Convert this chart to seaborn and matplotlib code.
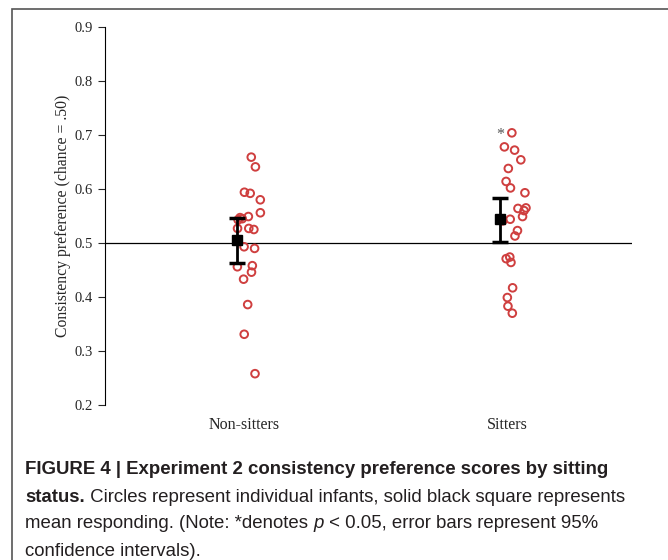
import numpy as np
import pandas as pd
import matplotlib.pyplot as plt
import matplotlib.transforms as mtransforms
import seaborn as sns
from matplotlib.patches import Rectangle

# values
groups = ["Non-sitters", "Sitters"]
non_sitters = [0.659, 0.641, 0.594, 0.592, 0.580, 0.556, 0.547, 0.545, 0.543, 0.549, 0.527,
               0.527, 0.525, 0.493, 0.490, 0.458, 0.456, 0.446, 0.433, 0.386, 0.331, 0.258]
sitters = [0.704, 0.678, 0.672, 0.654, 0.638, 0.614, 0.602, 0.593, 0.565, 0.564, 0.560, 0.549,
           0.544, 0.541, 0.523, 0.513, 0.474, 0.471, 0.464, 0.417, 0.399, 0.383, 0.370]
group_means = [0.506, 0.544]
ci_low = [0.463, 0.501]
ci_high = [0.546, 0.584]
sig_marks = ["", "*"]
y_ticks = [0.2, 0.3, 0.4, 0.5, 0.6, 0.7, 0.8, 0.9]

df = pd.DataFrame({
    "group": ["Non-sitters"] * len(non_sitters) + ["Sitters"] * len(sitters),
    "score": non_sitters + sitters,
})

sns.set_style("white")
plt.rcParams["font.family"] = ["Liberation Serif", "DejaVu Serif"]

fig = plt.figure(figsize=(6.68, 5.6), dpi=100)
ax = fig.add_axes([105 / 668, 1 - 405 / 560, 527 / 668, 378 / 560])

red = "#cf3f3f"
np.random.seed(3)
sns.stripplot(data=df, x="group", y="score", order=groups, jitter=0.05, size=5.5,
              color=red, ax=ax, zorder=2)
for coll in ax.collections:
    coll.set_facecolor("none")
    coll.set_edgecolor(red)
    coll.set_linewidth(1.4)
    offs = coll.get_offsets()
    offs[:, 0] += 0.05
    coll.set_offsets(offs)

# means with 95% CI
xpos = np.arange(len(groups))
yerr = [np.array(group_means) - np.array(ci_low), np.array(ci_high) - np.array(group_means)]
ax.errorbar(xpos, group_means, yerr=yerr, fmt="s", color="black", ms=7.5,
            elinewidth=2, capsize=6, capthick=2.5, zorder=4)

for x, s, top in zip(xpos, sig_marks, [max(non_sitters), max(sitters)]):
    if s:
        ax.text(x, top - 0.004, s, ha="center", va="center", fontsize=11.5, color="#555555")

ax.axhline(0.5, color="black", lw=0.9, zorder=1)

ax.set_xlim(-0.5, 1.5)
ax.set_ylim(0.2, 0.9)
ax.set_yticks(y_ticks)
ax.set_yticklabels([f"{t:.1f}" for t in y_ticks])
ax.set_xlabel("")
ax.set_ylabel("Consistency preference (chance = .50)", fontsize=11.3, labelpad=2)
ax.tick_params(axis="y", left=True, direction="out", length=5, width=0.8, labelsize=10.5, pad=4)
ax.tick_params(axis="x", bottom=False, labelsize=11.5, pad=5)
shift = mtransforms.ScaledTranslation(7 / 100, 0, fig.dpi_scale_trans)
for lab in ax.get_xticklabels():
    lab.set_transform(lab.get_transform() + shift)
for side in ["top", "right", "bottom"]:
    ax.spines[side].set_visible(False)
ax.spines["left"].set_color("black")
ax.spines["left"].set_linewidth(0.8)

# frame around the figure panel
fig.patches.append(Rectangle((12 / 668, -0.1), 1.0, 1 - 9 / 560 + 0.1, transform=fig.transFigure,
                             fill=False, edgecolor="#555555", lw=1.2))

# caption
cap = dict(family=["Liberation Sans", "DejaVu Sans"], fontsize=13.4, color="#231f20", va="center")
fig.text(25 / 668, 1 - 470 / 560, "FIGURE 4 | Experiment 2 consistency preference scores by sitting",
         weight="bold", **cap)
t = fig.text(25 / 668, 1 - 497 / 560, "status.", weight="bold", **cap)
ax.annotate(" Circles represent individual infants, solid black square represents",
            xy=(1, 0.5), xycoords=t, ha="left", annotation_clip=False, **cap)
t = fig.text(25 / 668, 1 - 524 / 560, "mean responding. (Note: *denotes ", **cap)
t2 = ax.annotate("p", xy=(1, 0.5), xycoords=t, ha="left", style="italic",
                 annotation_clip=False, **cap)
ax.annotate(" < 0.05, error bars represent 95%", xy=(1, 0.5), xycoords=t2, ha="left",
            annotation_clip=False, **cap)
fig.text(25 / 668, 1 - 551 / 560, "confidence intervals).", **cap)

fig.savefig("out.png", dpi=100)
